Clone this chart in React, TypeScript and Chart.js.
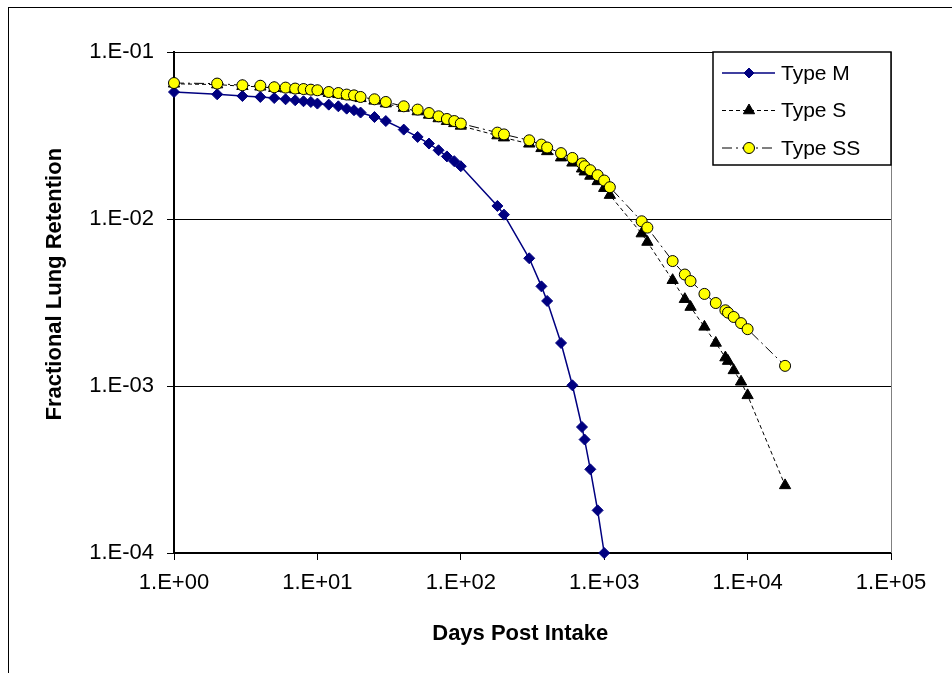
import React, { useEffect, useRef } from "react";
import { Chart, registerables } from "chart.js";

Chart.register(...registerables);

// ---- data ----
const seriesNames = ["Type M", "Type S", "Type SS"];

const daysM = [1, 2, 3, 4, 5, 6, 7, 8, 9, 10, 12, 14, 16, 18, 20, 25, 30, 40, 50, 60, 70, 80, 90, 100,
  180, 200, 300, 365, 400, 500, 600, 700, 730, 800, 900, 1000];
const typeM = [0.0576, 0.0558, 0.0545, 0.0538, 0.053, 0.0521, 0.0514, 0.0507, 0.0502, 0.0491, 0.0484, 0.0473,
  0.0458, 0.0448, 0.0434, 0.0408, 0.0386, 0.0343, 0.031, 0.0283, 0.0258, 0.0237, 0.0222, 0.0207,
  0.01197, 0.01062, 0.00582, 0.00395, 0.00323, 0.00181, 0.00101, 0.000568, 0.000478, 0.000317, 0.00018, 0.0001];

const daysS = [1, 2, 3, 4, 5, 6, 7, 8, 9, 10, 12, 14, 16, 18, 20, 25, 30, 40, 50, 60, 70, 80, 90, 100,
  180, 200, 300, 365, 400, 500, 600, 700, 730, 800, 900, 1000, 1095, 1825, 2000,
  3000, 3650, 4000, 5000, 6000, 7000, 7300, 8000, 9000, 10000, 18250];
const typeS = [0.0645, 0.0638, 0.0624, 0.0619, 0.0607, 0.0603, 0.0595, 0.0591, 0.0586, 0.0581, 0.0567, 0.0558,
  0.0546, 0.054, 0.0528, 0.051, 0.0491, 0.0462, 0.044, 0.042, 0.04, 0.0385, 0.0374, 0.0361,
  0.0316, 0.0307, 0.0282, 0.0265, 0.0254, 0.0233, 0.0217, 0.02, 0.0192, 0.0181, 0.0168, 0.0153, 0.0139,
  0.00818, 0.00728, 0.0043, 0.00331, 0.00297, 0.00226, 0.00181, 0.00148, 0.00141, 0.00124, 0.00106,
  0.000879, 0.000254];

const daysSS = daysS;
const typeSS = [0.0652, 0.0647, 0.0632, 0.0628, 0.0615, 0.0612, 0.0604, 0.06, 0.0595, 0.059, 0.0576, 0.0568,
  0.0556, 0.055, 0.0538, 0.0521, 0.0502, 0.0473, 0.0452, 0.0431, 0.0412, 0.0397, 0.0386, 0.0373,
  0.0329, 0.0321, 0.0296, 0.0279, 0.0268, 0.0248, 0.0232, 0.0215, 0.0207, 0.0196, 0.0183, 0.017, 0.0155,
  0.00969, 0.00888, 0.0056, 0.00465, 0.00425, 0.00356, 0.00314, 0.00284, 0.00275, 0.00259, 0.00238,
  0.00219, 0.00132];

const xTickValues = [1, 10, 100, 1000, 10000, 100000];
const xTickLabels = ["1.E+00", "1.E+01", "1.E+02", "1.E+03", "1.E+04", "1.E+05"];
const yTickValues = [0.0001, 0.001, 0.01, 0.1];
const yTickLabels = ["1.E-04", "1.E-03", "1.E-02", "1.E-01"];

const xTitle = "Days Post Intake";
const yTitle = "Fractional Lung Retention";

const FONT = '"Liberation Sans", Arial, sans-serif';

function drawMarker(ctx: CanvasRenderingContext2D, style: string, x: number, y: number, r: number,
  fill: string, stroke: string) {
  ctx.beginPath();
  if (style === "rectRot") {
    ctx.moveTo(x, y - r);
    ctx.lineTo(x + r, y);
    ctx.lineTo(x, y + r);
    ctx.lineTo(x - r, y);
    ctx.closePath();
  } else if (style === "triangle") {
    const w = r * Math.sqrt(3) / 2;
    ctx.moveTo(x, y - r);
    ctx.lineTo(x + w, y + r / 2);
    ctx.lineTo(x - w, y + r / 2);
    ctx.closePath();
  } else {
    ctx.arc(x, y, r, 0, Math.PI * 2);
  }
  ctx.fillStyle = fill;
  ctx.fill();
  ctx.lineWidth = 1;
  ctx.strokeStyle = stroke;
  ctx.stroke();
}

const boxLegend = {
  id: "boxLegend",
  afterDraw(chart: any) {
    const { ctx, chartArea } = chart;
    const right = chartArea.right;
    const left = right - 178;
    const top = chartArea.top;
    const h = 113;
    ctx.save();
    ctx.fillStyle = "#fff";
    ctx.fillRect(left, top, right - left, h);
    ctx.strokeStyle = "#000";
    ctx.lineWidth = 1.5;
    ctx.setLineDash([]);
    ctx.strokeRect(left, top, right - left, h);
    chart.data.datasets.forEach((ds: any, i: number) => {
      const y = top + 21 + i * 37.5;
      const x0 = left + 9, x1 = left + 62, xm = left + 36;
      ctx.save();
      ctx.setLineDash(ds.borderDash || []);
      ctx.strokeStyle = ds.borderColor;
      ctx.lineWidth = ds.borderWidth;
      ctx.beginPath();
      ctx.moveTo(x0, y);
      ctx.lineTo(x1, y);
      ctx.stroke();
      ctx.restore();
      ctx.setLineDash([]);
      drawMarker(ctx, ds.pointStyle, xm, y, ds.legendRadius, ds.pointBackgroundColor, ds.pointBorderColor);
      ctx.fillStyle = "#000";
      ctx.font = `21px ${FONT}`;
      ctx.textBaseline = "middle";
      ctx.textAlign = "left";
      ctx.fillText(ds.label, left + 68, y + 1);
    });
    ctx.restore();
  },
};

const rightBorder = {
  id: "rightBorder",
  beforeDatasetsDraw(chart: any) {
    const { ctx, chartArea } = chart;
    ctx.save();
    ctx.strokeStyle = "#808080";
    ctx.lineWidth = 1;
    ctx.beginPath();
    ctx.moveTo(chartArea.right + 0.5, chartArea.top);
    ctx.lineTo(chartArea.right + 0.5, chartArea.bottom);
    ctx.stroke();
    ctx.restore();
  },
};

export default function App() {
  const ref = useRef<HTMLCanvasElement>(null);
  useEffect(() => {
    const pts = (xs: number[], ys: number[]) => xs.map((x, i) => ({ x, y: ys[i] }));
    const chart = new Chart(ref.current as HTMLCanvasElement, {
      type: "line",
      data: {
        datasets: [
          {
            label: seriesNames[0],
            data: pts(daysM, typeM),
            borderColor: "#000080",
            borderWidth: 1.5,
            pointStyle: "rectRot",
            pointRadius: 5.5,
            pointBackgroundColor: "#000080",
            pointBorderColor: "#000080",
            pointBorderWidth: 1,
            tension: 0,
            clip: false,
            order: 3,
            legendRadius: 5,
          } as any,
          {
            label: seriesNames[1],
            data: pts(daysS, typeS),
            borderColor: "#000000",
            borderWidth: 1,
            borderDash: [4, 3],
            pointStyle: "triangle",
            pointRadius: 6.5,
            pointBackgroundColor: "#000000",
            pointBorderColor: "#000000",
            pointBorderWidth: 1,
            tension: 0,
            clip: false,
            order: 2,
            legendRadius: 6.5,
          } as any,
          {
            label: seriesNames[2],
            data: pts(daysSS, typeSS),
            borderColor: "#000000",
            borderWidth: 1,
            borderDash: [10, 4, 2, 4],
            pointStyle: "circle",
            pointRadius: 5.5,
            pointBackgroundColor: "#FFFF00",
            pointBorderColor: "#000000",
            pointBorderWidth: 1,
            tension: 0,
            clip: false,
            order: 1,
            legendRadius: 5.5,
          } as any,
        ],
      },
      options: {
        animation: false,
        responsive: false,
        devicePixelRatio: 1,
        events: [],
        layout: { padding: { top: 44, right: 61, bottom: 20, left: 0 } },
        plugins: { legend: { display: false }, tooltip: { enabled: false }, title: { display: false } },
        scales: {
          x: {
            type: "logarithmic",
            min: 1,
            max: 100000,
            afterBuildTicks: (scale: any) => {
              scale.ticks = xTickValues.map((v) => ({ value: v }));
            },
            afterFit: (scale: any) => {
              scale.height = 100;
            },
            ticks: {
              autoSkip: false,
              maxRotation: 0,
              padding: 10,
              color: "#000",
              font: { family: FONT, size: 22 },
              callback: (value: any) => {
                const i = xTickValues.indexOf(Number(value));
                return i >= 0 ? xTickLabels[i] : "";
              },
            },
            grid: { drawOnChartArea: false, drawTicks: true, tickLength: 7, color: "#000", lineWidth: 1 },
            border: { display: true, color: "#000", width: 2 },
            title: {
              display: true,
              text: xTitle + "    ",
              color: "#000",
              font: { family: FONT, size: 22, weight: "bold" },
              padding: { top: 0, bottom: 6 },
            },
          },
          y: {
            type: "logarithmic",
            min: 0.0001,
            max: 0.1,
            afterBuildTicks: (scale: any) => {
              scale.ticks = yTickValues.map((v) => ({ value: v }));
            },
            afterFit: (scale: any) => {
              scale.width = 165;
            },
            ticks: {
              autoSkip: false,
              padding: 13,
              color: "#000",
              font: { family: FONT, size: 22 },
              callback: (value: any) => {
                const i = yTickValues.findIndex((v) => Math.abs(v - Number(value)) < v * 1e-6);
                return i >= 0 ? yTickLabels[i] : "";
              },
            },
            grid: { drawOnChartArea: true, drawTicks: true, tickLength: 7, color: "#000", lineWidth: 1 },
            border: { display: true, color: "#000", width: 2 },
            title: {
              display: true,
              text: "      " + yTitle,
              color: "#000",
              font: { family: FONT, size: 22, weight: "bold" },
              padding: { top: 33, bottom: 0 },
            },
          },
        },
      },
      plugins: [rightBorder, boxLegend],
    } as any);
    return () => chart.destroy();
  }, []);

  return (
    <div
      style={{
        position: "absolute",
        left: 8,
        top: 7,
        width: 943,
        height: 665,
        borderLeft: "1px solid #000",
        borderTop: "1px solid #000",
        background: "#fff",
      }}
    >
      <canvas ref={ref} width={943} height={665} style={{ display: "block", width: 943, height: 665 }} />
    </div>
  );
}
